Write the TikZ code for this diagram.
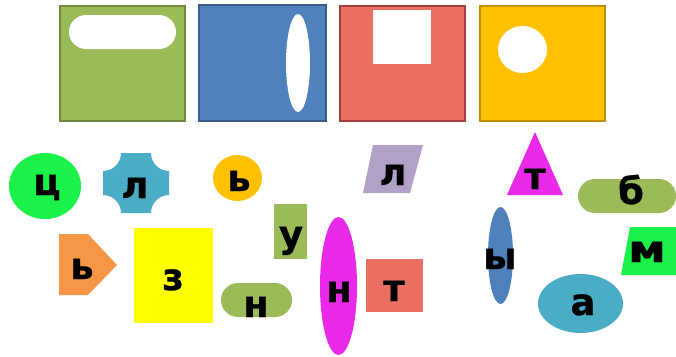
\documentclass[tikz,border=0pt]{standalone}
\usepackage{fontspec}
\setmainfont{DejaVu Sans}
\newfontfamily\letfont{DejaVu Sans Bold}[FakeBold=0.8]
\usetikzlibrary{positioning}
\definecolor{cgreen}{HTML}{9BBB59}
\definecolor{cgreenD}{HTML}{71893F}
\definecolor{cblue}{HTML}{4F81BD}
\definecolor{cblueD}{HTML}{385D8A}
\definecolor{cred}{HTML}{E86F61}
\definecolor{credD}{HTML}{A23F3C}
\definecolor{cgold}{HTML}{FFC000}
\definecolor{cgoldD}{HTML}{BF9000}
\definecolor{cteal}{HTML}{4BACC6}
\definecolor{corange}{HTML}{F79646}
\definecolor{clime}{HTML}{1AF24A}
\definecolor{cmag}{HTML}{E829E8}
\definecolor{cviolet}{HTML}{B2A1C7}
\definecolor{cyel}{HTML}{FFFF00}
\tikzset{
  panel/.style={line width=1.6pt},
  hole/.style={fill=white},
  pill/.style={rounded corners=17pt},
  let/.style={font=\letfont\fontsize{37}{37}\selectfont, inner sep=0pt,
              anchor=base},
}

\begin{document}
\begin{tikzpicture}[x=1pt, y=-1pt]
\useasboundingbox (0,0) rectangle (676,356);

% top row of panels
\draw[panel, fill=cgreen, draw=cgreenD] (60,6) rectangle (185,121);
\fill[hole, pill] (69,15) rectangle (176,49);

\draw[panel, fill=cblue, draw=cblueD] (199,5) rectangle (326,121);
\fill[hole] (298,63) ellipse [x radius=12pt, y radius=49pt];

\draw[panel, fill=cred, draw=credD] (340,6) rectangle (465,121);
\fill[hole] (373,10) rectangle (431,64);

\draw[panel, fill=cgold, draw=cgoldD] (480,6) rectangle (605,121);
\fill[hole] (522.5,49.5) ellipse [x radius=24.5pt, y radius=23.5pt];

% loose shapes
\fill[clime] (45,186) ellipse [x radius=36pt, y radius=33pt];
\fill[cteal] (121,153) -- (151,153) arc [start angle=180, end angle=90, radius=18]
  -- (169,195) arc [start angle=270, end angle=180, radius=18]
  -- (121,213) arc [start angle=0, end angle=-90, radius=18]
  -- (103,171) arc [start angle=90, end angle=0, radius=18] -- cycle;
\fill[cgold] (237.5,178) ellipse [x radius=24.5pt, y radius=23pt];
\fill[cgreen] (274,204) rectangle (307,259);
\fill[corange] (59,234) -- (88,234) -- (117,265) -- (88,295) -- (59,295) -- cycle;
\fill[cyel] (134,228) rectangle (213,323);
\fill[cgreen, pill] (221,283) rectangle (292,317);
\fill[cmag] (338.5,286) ellipse [x radius=18.5pt, y radius=69pt];
\fill[cred] (366,259) rectangle (423,312);
\fill[cviolet] (373,145) -- (423,145) -- (410,193) -- (363,193) -- cycle;
\fill[cmag] (535,132) -- (563,195) -- (507,195) -- cycle;
\fill[cgreen, pill] (578,179) rectangle (676,213);
\fill[clime] (630,227) -- (676,227) -- (676,275) -- (621,275) -- cycle;
\fill[cblue] (500.5,255.5) ellipse [x radius=12.5pt, y radius=48.5pt];
\fill[cteal] (580.5,303.5) ellipse [x radius=42.5pt, y radius=29.5pt];

% letters
\node[let] (tse)   at (47,195)  {ц};
\node[let] (el1)   at (135,198) {л};
\node[let] (soft1) at (239,191) {ь};
\node[let] (u)     at (291,247) {у};
\node[let] (soft2) at (82,279)  {ь};
\node[let] (ze)    at (173,290) {з};
\node[let] (en1)   at (256,317) {н};
\node[let] (en2)   at (339,302) {н};
\node[let] (te1)   at (394,301) {т};
\node[let] (el2)   at (393,185) {л};
\node[let] (te2)   at (535,189) {т};
\node[let] (be)    at (631,204) {б};
\node[let, xscale=1.25] (em) at (647,262) {м};
\node[let] (yery)  at (500,269) {ы};
\node[let] (a)     at (583,315) {а};

\end{tikzpicture}
\end{document}
